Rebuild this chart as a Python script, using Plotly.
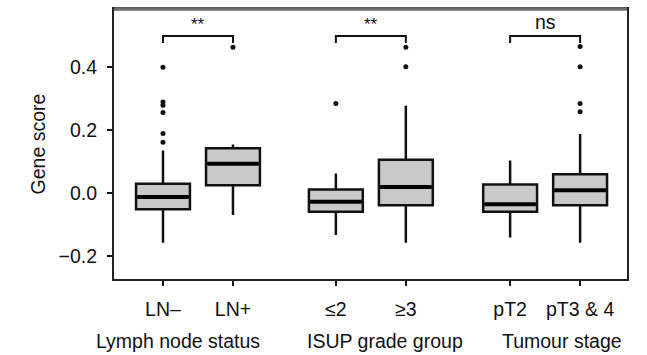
import plotly.graph_objects as go

# Groups and their x positions (pairs separated by a gap)
categories = ["LN–", "LN+", "≤2", "≥3", "pT2", "pT3 & 4"]
positions = [1, 2, 3.47, 4.47, 5.96, 6.96]
group_titles = ["Lymph node status", "ISUP grade group", "Tumour stage"]
group_title_x = [1.21, 4.17, 6.70]

# Box summary statistics (gene score)
q1 = [-0.051, 0.025, -0.059, -0.038, -0.059, -0.038]
median = [-0.012, 0.094, -0.027, 0.020, -0.035, 0.009]
q3 = [0.030, 0.143, 0.012, 0.106, 0.028, 0.060]
lower_whisker = [-0.158, -0.069, -0.133, -0.158, -0.141, -0.158]
upper_whisker = [0.136, 0.155, 0.063, 0.278, 0.104, 0.188]

# Outlying observations per group
outliers = [
    [0.162, 0.190, 0.257, 0.280, 0.290, 0.401],
    [0.464],
    [0.285],
    [0.402, 0.464],
    [],
    [0.259, 0.285, 0.402, 0.467],
]

# Pairwise comparisons: (left index, right index, label)
comparisons = [(0, 1, "**"), (2, 3, "**"), (4, 5, "ns")]
bracket_y = 0.500
bracket_drop = 0.022

y_ticks = [-0.2, 0.0, 0.2, 0.4]
y_tick_text = ["\u22120.2", "0.0", "0.2", "0.4"]

box_width = 0.77
font_family = "Liberation Sans, Arial, sans-serif"

fig = go.Figure()

fig.add_trace(go.Box(
    x=positions,
    q1=q1, median=median, q3=q3,
    lowerfence=lower_whisker, upperfence=upper_whisker,
    width=box_width,
    whiskerwidth=0,
    fillcolor="#c9c9c9",
    line=dict(color="#111111", width=2.5),
    boxpoints=False,
    showlegend=False,
    hoverinfo="skip",
))

# Thicker median bars
for pos, med in zip(positions, median):
    fig.add_trace(go.Scatter(
        x=[pos - box_width / 2 + 0.02, pos + box_width / 2 - 0.02],
        y=[med, med],
        mode="lines",
        line=dict(color="#000000", width=4),
        showlegend=False,
        hoverinfo="skip",
    ))

# Outlier points
ox, oy = [], []
for pos, pts in zip(positions, outliers):
    ox += [pos] * len(pts)
    oy += pts
fig.add_trace(go.Scatter(
    x=ox, y=oy, mode="markers",
    marker=dict(color="#111111", size=5),
    showlegend=False, hoverinfo="skip",
))

# Significance brackets
for i, j, label in comparisons:
    xa, xb = positions[i], positions[j]
    fig.add_trace(go.Scatter(
        x=[xa, xa, xb, xb],
        y=[bracket_y - bracket_drop, bracket_y, bracket_y, bracket_y - bracket_drop],
        mode="lines",
        line=dict(color="#111111", width=2),
        showlegend=False, hoverinfo="skip",
    ))
    is_star = label.startswith("*")
    fig.add_annotation(
        x=(xa + xb) / 2, y=bracket_y, yshift=12 if is_star else 14,
        text=label, showarrow=False,
        font=dict(family=font_family, size=17 if is_star else 19.5, color="#111111"),
        xanchor="center", yanchor="middle",
    )

# Group titles beneath the category labels
for gx, title in zip(group_title_x, group_titles):
    fig.add_annotation(
        x=gx, xref="x", y=0, yref="paper", yshift=-62,
        text=title, showarrow=False,
        font=dict(family=font_family, size=19.5, color="#111111"),
        xanchor="center", yanchor="middle",
    )

# Heavier top edge of the frame
fig.add_shape(type="line", xref="paper", yref="paper", x0=0, x1=1, y0=1, y1=1,
              line=dict(color="#6e6e6e", width=3.5))

fig.update_layout(
    width=647, height=355,
    margin=dict(l=114, r=20, t=7, b=76),
    paper_bgcolor="white", plot_bgcolor="white",
    font=dict(family=font_family, size=19.5, color="#111111"),
)

fig.update_xaxes(
    range=[0.3, 7.63],
    tickmode="array", tickvals=positions, ticktext=categories,
    ticks="outside", ticklen=5, tickwidth=2, tickcolor="#111111",
    ticklabelstandoff=7,
    showline=True, linecolor="#222222", linewidth=2, mirror=True,
    showgrid=False, zeroline=False,
)
fig.update_yaxes(
    range=[-0.273, 0.586],
    tickmode="array", tickvals=y_ticks, ticktext=y_tick_text,
    ticks="outside", ticklen=5, tickwidth=2, tickcolor="#111111",
    ticklabelstandoff=6,
    showline=True, linecolor="#222222", linewidth=2, mirror=True,
    showgrid=False, zeroline=False,
    title=dict(text="Gene score", standoff=8, font=dict(size=19.5)),
)

fig.write_html("out.html")
